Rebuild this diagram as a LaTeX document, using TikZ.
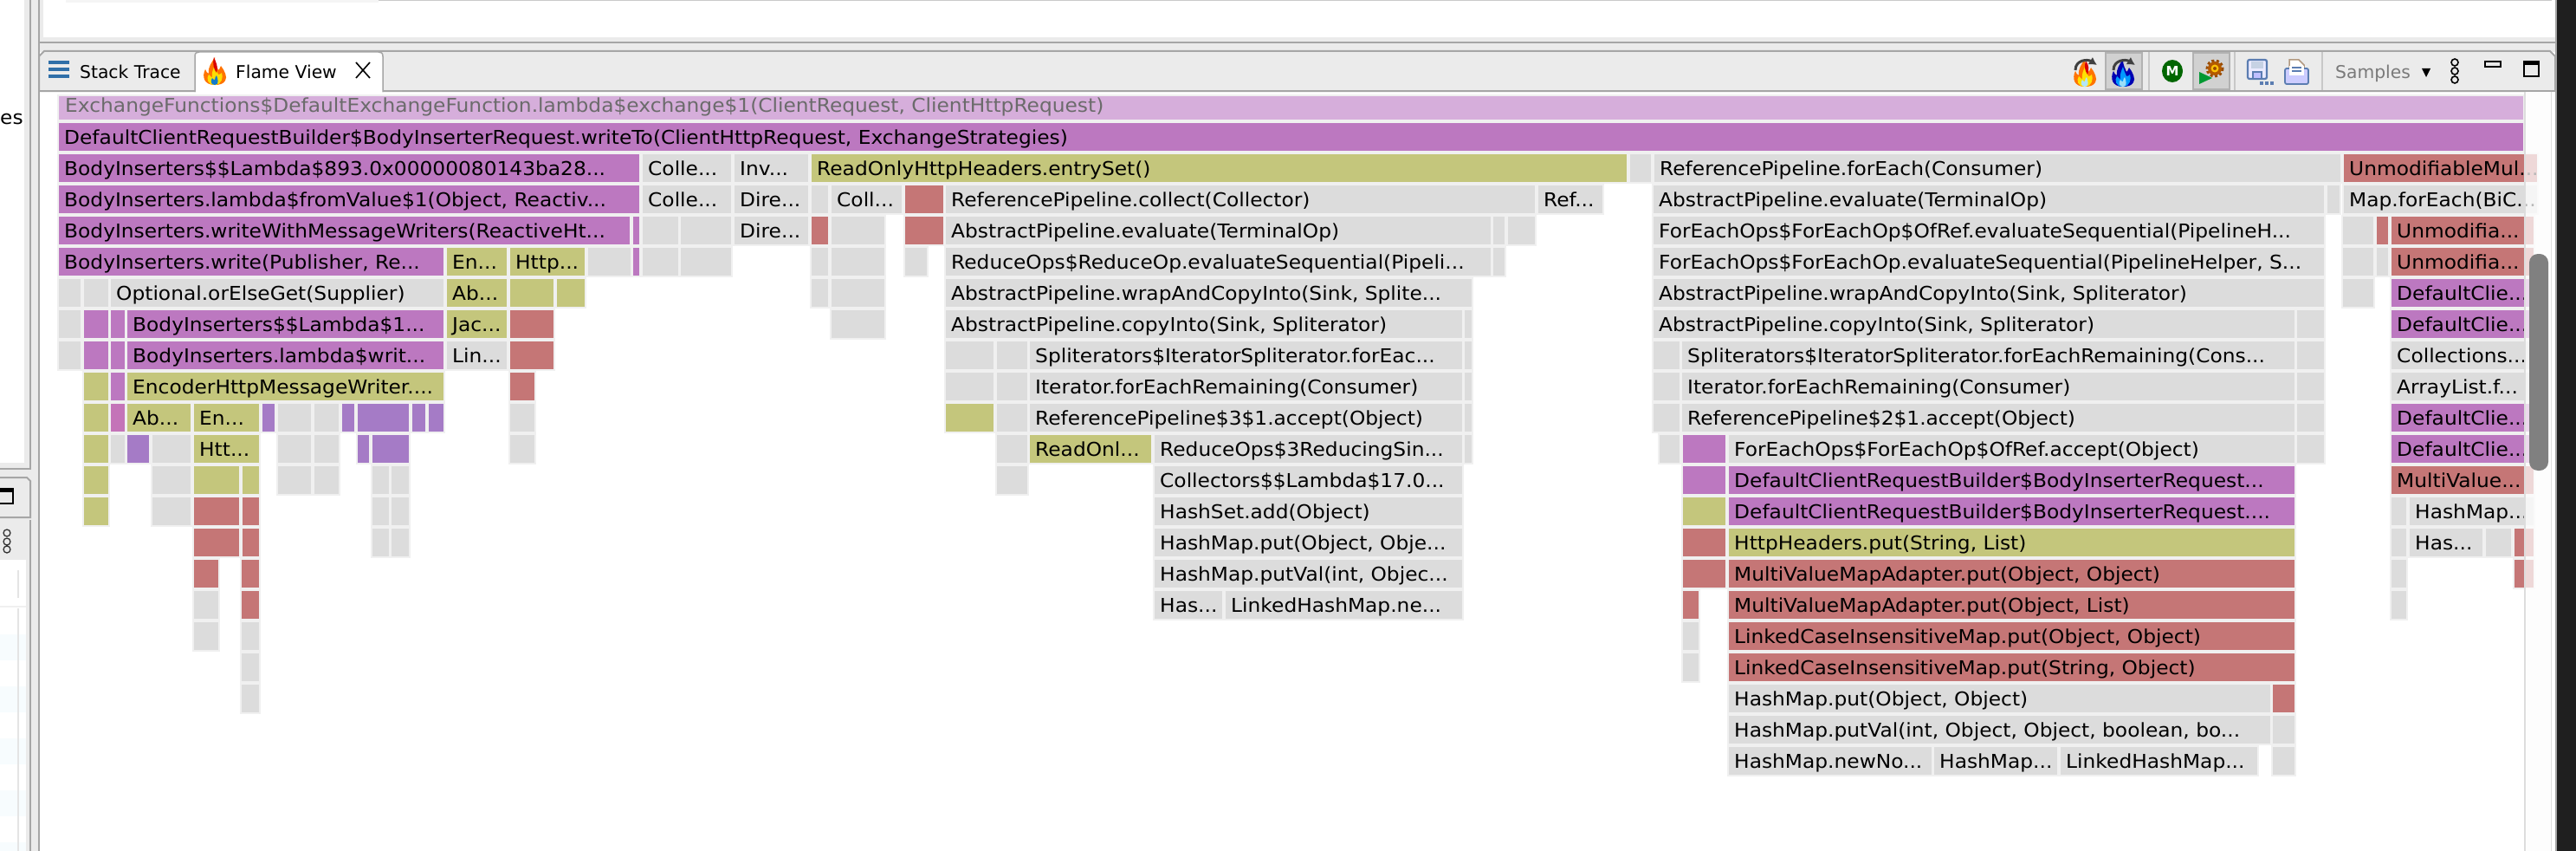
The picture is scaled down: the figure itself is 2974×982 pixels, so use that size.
\documentclass[tikz,border=0pt]{standalone}
\usepackage{fontspec}
\setmainfont{DejaVu Sans}
\usetikzlibrary{arrows.meta}
\definecolor{cG}{HTML}{DCDCDC}
\definecolor{cP}{HTML}{BC78C0}
\definecolor{cL}{HTML}{D6AEDB}
\definecolor{cO}{HTML}{C4C67C}
\definecolor{cR}{HTML}{C57676}
\definecolor{cV}{HTML}{A57BC6}
\definecolor{cK}{HTML}{C474B8}
\definecolor{cE}{HTML}{F0F0F0}
\definecolor{cBar}{HTML}{EBEBEB}
\definecolor{cLine}{HTML}{A6A6A6}
\definecolor{cIcon}{HTML}{5B7DB1}
\definecolor{cBlue}{HTML}{2F6FA8}
\newfontfamily\flamefont[FakeStretch=1.06]{DejaVu Sans}
\tikzset{
  boxnode/.style={draw=cE,line width=2pt,inner sep=0pt,outer sep=0pt,minimum height=34pt,anchor=north west},
  lbl/.style={inner sep=0pt,anchor=base west,font=\flamefont\fontsize{22}{26}\selectfont,text=black},
  uilbl/.style={inner sep=0pt,anchor=base west,font=\fontsize{20.3}{24}\selectfont,text=black},
  uiline/.style={draw=cLine,line width=2pt},
  winbtn/.style={draw=black,line width=2.5pt},
}
\newcounter{bx}
\newcommand\B[5]{%
  \stepcounter{bx}%
  \pgfmathsetmacro\bt{105+36*#1}%
  \pgfmathsetmacro\bw{#3-#2}%
  \pgfmathsetmacro\bb{\bt+25}%
  \pgfmathsetmacro\bxx{#2+7}%
  \node[boxnode,fill=#4,minimum width=\bw pt] (b\thebx) at (#2,\bt) {};
  \def\tmptxt{#5}%
  \ifx\tmptxt\empty\else
    \node[lbl] (t\thebx) at (\bxx,\bb) {#5};
  \fi}
\newcommand\Flame[5]{%
  \begin{scope}[shift={(#1,#2)}]
    \fill[#3] (0,15) .. controls (-13,15) and (-15,5) .. (-11,-3) .. controls (-10,0) and (-9,1) .. (-7,2) .. controls (-8,-6) and (-4,-10) .. (0,-17) .. controls (0,-8) and (3,-6) .. (4,-2) .. controls (5,-3) and (6,-4) .. (7,-7) .. controls (11,-2) and (15,6) .. (12,10) .. controls (10,14) and (5,15) .. (0,15) -- cycle;
    \fill[#4] (0,15) .. controls (-9,15) and (-10,7) .. (-7,3) .. controls (-5,5) and (-4,6) .. (-3,7) .. controls (-4,1) and (-2,-3) .. (0,-8) .. controls (1,-3) and (3,0) .. (4,3) .. controls (6,3) and (7,2) .. (8,1) .. controls (10,6) and (8,15) .. (0,15) -- cycle;
    \fill[#5] (0,15) .. controls (-5,15) and (-5,10) .. (-3,7) .. controls (-2,9) and (-1,9) .. (0,9) .. controls (0,7) and (1,5) .. (2,4) .. controls (3,7) and (6,15) .. (0,15) -- cycle;
  \end{scope}}
\begin{document}
\begin{tikzpicture}[x=1pt,y=-1pt]
\useasboundingbox (0,0) rectangle (2974,982);
% window background
\fill[white] (0,0) rectangle (2974,982);
% frames between the panels
\fill[cBar] (28,0) rectangle (46,982);
\fill[cBar] (46,0) rectangle (50,60);
\fill[cBar] (46,43) rectangle (2950,60);
\fill[cBar] (0,534) rectangle (35,646);
\draw[uiline] (35,0) -- (35,541) -- (0,541);
\draw[uiline] (35,597) -- (35,982);
\draw[uiline] (45,0) -- (45,982);
\draw[uiline] (46,49) -- (2950,49);
\fill[white] (50,0) rectangle (2946,43);
\fill[cE!70!white] (76,0) rectangle (437,3);
\fill[cLine!60!white] (437,0) rectangle (2946,1.5);
\fill[white] (47,106) rectangle (2950,982);
% tab strip
\path[fill=cBar,uiline] (45,105) -- (45,65) -- (51,59) -- (2944,59) -- (2950,65) -- (2950,105) -- cycle;
\path[fill=white,draw=cLine,line width=1.5pt] (225,106) -- (225,65) .. controls (225,61) and (227,60) .. (230,60) -- (437,60) .. controls (440,60) and (442,61) .. (442,65) -- (442,106);
\fill[white] (226,103) rectangle (441,107);
% stack trace tab
\fill[cBlue] (56,70) rectangle (80,74);
\fill[cBlue] (56,78) rectangle (80,82);
\fill[cBlue] (56,86) rectangle (80,90);
\node[uilbl] (stacktab) at (92,91) {Stack Trace};
\Flame{248}{83}{orange!90!red}{yellow!80!orange}{cyan!60!blue}
\fill[red!85!black] (247,66) .. controls (250,74) and (252,76) .. (250,84) .. controls (247,80) and (245,74) .. (247,66) -- cycle;
\node[uilbl] (flametab) at (272,91) {Flame View};
\draw[line width=1.6pt] (411,72) -- (427,90) (427,72) -- (411,90);
% toolbar
\draw[cBar!85!black,line width=1.5pt] (2481,60) -- (2481,104) (2580,60) -- (2580,104) (2681,60) -- (2681,104);
\path[fill=black!18,draw=black!30,line width=2pt] (2431,61) rectangle (2473,103);
\path[fill=black!18,draw=black!30,line width=2pt] (2532,61) rectangle (2574,103);
\Flame{2407}{85}{orange!90!red}{yellow!85!orange}{white!70!cyan}
\fill[red!85!black] (2408,70) .. controls (2412,76) and (2412,80) .. (2410,86) .. controls (2407,82) and (2406,76) .. (2408,70) -- cycle;
\Flame{2451}{85}{blue!70!black}{blue!40!cyan}{white!60!cyan}
\draw[black!75,line width=3pt,-{Latex[length=9pt,width=10pt]}] (2396,81) .. controls (2396,69) and (2410,68) .. (2421,75);
\draw[black!75,line width=3pt,-{Latex[length=9pt,width=10pt]}] (2440,81) .. controls (2440,69) and (2454,68) .. (2465,75);
\fill[green!40!black] (2508,82) ellipse (12 and 13);
\node[inner sep=0pt,font=\fontsize{15}{15}\bfseries\selectfont,text=white] (mbadge) at (2508,82) {M};
\draw[orange!60!black,line width=3pt,dash pattern=on 3pt off 2.5pt] (2557,79) circle (9);
\fill[orange!70!black] (2557,79) circle (8);
\fill[yellow!55!orange] (2557,79) circle (4.5);
\fill[orange!60!black] (2557,79) circle (2);
\fill[green!50!black!80!cyan] (2539,83) -- (2554,90) -- (2539,97) -- cycle;
\path[fill=blue!8!white,draw=cIcon,line width=2.2pt,rounded corners=2pt] (2595,69) rectangle (2617,91);
\fill[cIcon!35!white] (2599,71) rectangle (2613,79);
\path[fill=blue!25!white,draw=cIcon,line width=1.6pt] (2601,83) rectangle (2611,91);
\fill[cIcon] (2609,94) rectangle (2613,98);
\fill[cIcon] (2615,94) rectangle (2619,98);
\fill[cIcon] (2621,94) rectangle (2625,98);
\path[fill=white,draw=orange!40!black!50!white,line width=1.5pt] (2643,69) -- (2654,69) -- (2660,75) -- (2660,88) -- (2643,88) -- cycle;
\path[fill=blue!20!white,draw=cIcon,line width=1.8pt,rounded corners=2pt] (2638,79) rectangle (2665,97);
\path[fill=white,draw=none] (2643,76) rectangle (2660,87);
\draw[cIcon,line width=1.5pt] (2646,78) -- (2657,78) (2646,82) -- (2657,82);
\node[uilbl,text=black!52] (samples) at (2696,90) {Samples};
\fill (2796,79) -- (2806,79) -- (2801,89) -- cycle;
\draw[line width=1.6pt] (2834,72) circle (4) (2834,82) circle (4) (2834,92) circle (4);
\draw[winbtn] (2869,71) rectangle (2887,77);
\draw[winbtn] (2914,71) rectangle (2931,88);
\fill (2914,71) rectangle (2931,75);
% left panel remains
\node[lbl] (leftes) at (0,143) {es};
\fill[cBar] (36,551) -- (36,600) -- (0,600) -- (0,551) -- cycle;
\draw[uiline] (0,551) -- (31,551) -- (35,555) -- (35,597) -- (0,597);
\draw[line width=2.4pt] (-3,564) rectangle (15,581);
\fill (-3,564) rectangle (15,568);
\draw[black!80,line width=1.3pt] (8,615) circle (4) (8,625) circle (4) (8,634) circle (4);
\fill[white] (0,646) rectangle (30,982);
\foreach \s in {732,792,852,912,972}{\fill[black!5!cyan!3!white] (0,\s) rectangle (30,\s+30);}
\draw[cE!95!black,line width=1.2pt] (21,658) -- (21,690) (21,702) -- (21,982);
\draw[cE,line width=1.5pt] (0,700) -- (30,700);
% right strip behind the graph
\fill[black!2] (2916,106) rectangle (2945,982);
% flame graph
\node[boxnode,fill=cL,minimum width=2847pt,minimum height=29pt] (root) at (67,110) {};
\node[lbl,text=black!58] (rootlbl) at (75,129) {ExchangeFunctions\$DefaultExchangeFunction.lambda\$exchange\$1(ClientRequest, ClientHttpRequest)};
\B{1}{67}{2914}{cP}{DefaultClientRequestBuilder\$BodyInserterRequest.writeTo(ClientHttpRequest, ExchangeStrategies)}
% row 2
\B{2}{67}{739}{cP}{BodyInserters\$\$Lambda\$893.0x00000080143ba28...}
\B{2}{741}{845}{cG}{Colle...}
\B{2}{847}{934}{cG}{Inv...}
\B{2}{936}{1879}{cO}{ReadOnlyHttpHeaders.entrySet()}
\B{2}{1881}{1907}{cG}{}
\B{2}{1909}{2703}{cG}{ReferencePipeline.forEach(Consumer)}
\B{2}{2705}{2930}{cR}{UnmodifiableMul...}
% row 3
\B{3}{67}{739}{cP}{BodyInserters.lambda\$fromValue\$1(Object, Reactiv...}
\B{3}{741}{845}{cG}{Colle...}
\B{3}{847}{934}{cG}{Dire...}
\B{3}{936}{957}{cG}{}
\B{3}{959}{1042}{cG}{Coll...}
\B{3}{1044}{1090}{cR}{}
\B{3}{1091}{1773}{cG}{ReferencePipeline.collect(Collector)}
\B{3}{1775}{1851}{cG}{Ref...}
\B{3}{1908}{2684}{cG}{AbstractPipeline.evaluate(TerminalOp)}
\B{3}{2686}{2702}{cG}{}
\B{3}{2705}{2930}{cG}{Map.forEach(BiC...}
% row 4
\B{4}{67}{728}{cP}{BodyInserters.writeWithMessageWriters(ReactiveHt...}
\B{4}{730}{739}{cP}{}
\B{4}{741}{784}{cG}{}
\B{4}{785}{845}{cG}{}
\B{4}{847}{934}{cG}{Dire...}
\B{4}{936}{957}{cR}{}
\B{4}{959}{1022}{cG}{}
\B{4}{1044}{1090}{cR}{}
\B{4}{1091}{1722}{cG}{AbstractPipeline.evaluate(TerminalOp)}
\B{4}{1723}{1738}{cG}{}
\B{4}{1740}{1773}{cG}{}
\B{4}{1908}{2684}{cG}{ForEachOps\$ForEachOp\$OfRef.evaluateSequential(PipelineH...}
\B{4}{2704}{2741}{cG}{}
\B{4}{2743}{2758}{cR}{}
\B{4}{2760}{2926}{cR}{Unmodifia...}
% row 5
\B{5}{67}{513}{cP}{BodyInserters.write(Publisher, Re...}
\B{5}{515}{586}{cO}{En...}
\B{5}{588}{676}{cO}{Http...}
\B{5}{678}{729}{cG}{}
\B{5}{730}{739}{cP}{}
\B{5}{741}{784}{cG}{}
\B{5}{785}{845}{cG}{}
\B{5}{936}{957}{cG}{}
\B{5}{959}{1022}{cG}{}
\B{5}{1044}{1071}{cG}{}
\B{5}{1091}{1722}{cG}{ReduceOps\$ReduceOp.evaluateSequential(Pipeli...}
\B{5}{1723}{1738}{cG}{}
\B{5}{1908}{2684}{cG}{ForEachOps\$ForEachOp.evaluateSequential(PipelineHelper, S...}
\B{5}{2704}{2741}{cG}{}
\B{5}{2743}{2758}{cG}{}
\B{5}{2760}{2926}{cR}{Unmodifia...}
% row 6
\B{6}{67}{94}{cG}{}
\B{6}{96}{126}{cG}{}
\B{6}{127}{513}{cG}{Optional.orElseGet(Supplier)}
\B{6}{515}{586}{cO}{Ab...}
\B{6}{588}{640}{cO}{}
\B{6}{642}{676}{cO}{}
\B{6}{936}{957}{cG}{}
\B{6}{959}{1022}{cG}{}
\B{6}{1091}{1700}{cG}{AbstractPipeline.wrapAndCopyInto(Sink, Splite...}
\B{6}{1908}{2684}{cG}{AbstractPipeline.wrapAndCopyInto(Sink, Spliterator)}
\B{6}{2704}{2741}{cG}{}
\B{6}{2760}{2926}{cP}{DefaultClie...}
% row 7
\B{7}{67}{94}{cG}{}
\B{7}{96}{126}{cP}{}
\B{7}{127}{145}{cP}{}
\B{7}{146}{513}{cP}{BodyInserters\$\$Lambda\$1...}
\B{7}{515}{586}{cO}{Jac...}
\B{7}{588}{640}{cR}{}
\B{7}{959}{1022}{cG}{}
\B{7}{1091}{1689}{cG}{AbstractPipeline.copyInto(Sink, Spliterator)}
\B{7}{1690}{1700}{cG}{}
\B{7}{1908}{2650}{cG}{AbstractPipeline.copyInto(Sink, Spliterator)}
\B{7}{2651}{2684}{cG}{}
\B{7}{2760}{2926}{cP}{DefaultClie...}
% row 8
\B{8}{67}{94}{cG}{}
\B{8}{96}{126}{cP}{}
\B{8}{127}{145}{cP}{}
\B{8}{146}{513}{cP}{BodyInserters.lambda\$writ...}
\B{8}{515}{586}{cG}{Lin...}
\B{8}{588}{640}{cR}{}
\B{8}{1091}{1148}{cG}{}
\B{8}{1150}{1187}{cG}{}
\B{8}{1188}{1689}{cG}{Spliterators\$IteratorSpliterator.forEac...}
\B{8}{1690}{1700}{cG}{}
\B{8}{1908}{1940}{cG}{}
\B{8}{1941}{2650}{cG}{Spliterators\$IteratorSpliterator.forEachRemaining(Cons...}
\B{8}{2651}{2684}{cG}{}
\B{8}{2760}{2926}{cG}{Collections...}
% row 9
\B{9}{96}{126}{cO}{}
\B{9}{127}{145}{cP}{}
\B{9}{146}{513}{cO}{EncoderHttpMessageWriter....}
\B{9}{588}{618}{cR}{}
\B{9}{1091}{1148}{cG}{}
\B{9}{1150}{1187}{cG}{}
\B{9}{1188}{1689}{cG}{Iterator.forEachRemaining(Consumer)}
\B{9}{1690}{1700}{cG}{}
\B{9}{1908}{1940}{cG}{}
\B{9}{1941}{2650}{cG}{Iterator.forEachRemaining(Consumer)}
\B{9}{2651}{2684}{cG}{}
\B{9}{2760}{2926}{cG}{ArrayList.f...}
% row 10
\B{10}{96}{126}{cO}{}
\B{10}{127}{145}{cK}{}
\B{10}{146}{221}{cO}{Ab...}
\B{10}{223}{300}{cO}{En...}
\B{10}{302}{318}{cV}{}
\B{10}{320}{360}{cG}{}
\B{10}{362}{392}{cG}{}
\B{10}{394}{410}{cV}{}
\B{10}{412}{473}{cV}{}
\B{10}{475}{492}{cV}{}
\B{10}{494}{513}{cV}{}
\B{10}{588}{618}{cG}{}
\B{10}{1091}{1148}{cO}{}
\B{10}{1150}{1187}{cG}{}
\B{10}{1188}{1689}{cG}{ReferencePipeline\$3\$1.accept(Object)}
\B{10}{1690}{1700}{cG}{}
\B{10}{1908}{1940}{cG}{}
\B{10}{1941}{2650}{cG}{ReferencePipeline\$2\$1.accept(Object)}
\B{10}{2651}{2684}{cG}{}
\B{10}{2760}{2926}{cP}{DefaultClie...}
% row 11
\B{11}{96}{126}{cO}{}
\B{11}{127}{145}{cG}{}
\B{11}{146}{173}{cV}{}
\B{11}{175}{221}{cG}{}
\B{11}{223}{300}{cO}{Htt...}
\B{11}{320}{360}{cG}{}
\B{11}{362}{392}{cG}{}
\B{11}{412}{427}{cV}{}
\B{11}{429}{473}{cV}{}
\B{11}{588}{618}{cG}{}
\B{11}{1150}{1187}{cG}{}
\B{11}{1188}{1330}{cO}{ReadOnl...}
\B{11}{1332}{1689}{cG}{ReduceOps\$3ReducingSin...}
\B{11}{1690}{1700}{cG}{}
\B{11}{1915}{1940}{cG}{}
\B{11}{1942}{1993}{cP}{}
\B{11}{1995}{2650}{cG}{ForEachOps\$ForEachOp\$OfRef.accept(Object)}
\B{11}{2651}{2684}{cG}{}
\B{11}{2760}{2926}{cP}{DefaultClie...}
% row 12
\B{12}{96}{126}{cO}{}
\B{12}{175}{221}{cG}{}
\B{12}{223}{277}{cO}{}
\B{12}{279}{300}{cO}{}
\B{12}{320}{360}{cG}{}
\B{12}{362}{392}{cG}{}
\B{12}{429}{450}{cG}{}
\B{12}{451}{473}{cG}{}
\B{12}{1150}{1187}{cG}{}
\B{12}{1332}{1689}{cG}{Collectors\$\$Lambda\$17.0...}
\B{12}{1942}{1993}{cP}{}
\B{12}{1995}{2650}{cP}{DefaultClientRequestBuilder\$BodyInserterRequest...}
\B{12}{2760}{2926}{cR}{MultiValue...}
% row 13
\B{13}{96}{126}{cO}{}
\B{13}{175}{221}{cG}{}
\B{13}{223}{277}{cR}{}
\B{13}{279}{300}{cR}{}
\B{13}{429}{450}{cG}{}
\B{13}{451}{473}{cG}{}
\B{13}{1332}{1689}{cG}{HashSet.add(Object)}
\B{13}{1942}{1993}{cO}{}
\B{13}{1995}{2650}{cP}{DefaultClientRequestBuilder\$BodyInserterRequest....}
\B{13}{2760}{2779}{cG}{}
\B{13}{2781}{2926}{cG}{HashMap...}
% row 14
\B{14}{223}{277}{cR}{}
\B{14}{279}{300}{cR}{}
\B{14}{429}{450}{cG}{}
\B{14}{451}{473}{cG}{}
\B{14}{1332}{1689}{cG}{HashMap.put(Object, Obje...}
\B{14}{1942}{1993}{cR}{}
\B{14}{1995}{2650}{cO}{HttpHeaders.put(String, List)}
\B{14}{2760}{2779}{cG}{}
\B{14}{2781}{2867}{cG}{Has...}
\B{14}{2869}{2900}{cG}{}
\B{14}{2902}{2926}{cR}{}
% row 15
\B{15}{223}{253}{cR}{}
\B{15}{278}{300}{cR}{}
\B{15}{1332}{1689}{cG}{HashMap.putVal(int, Objec...}
\B{15}{1942}{1993}{cR}{}
\B{15}{1995}{2650}{cR}{MultiValueMapAdapter.put(Object, Object)}
\B{15}{2760}{2779}{cG}{}
\B{15}{2902}{2926}{cR}{}
% row 16
\B{16}{223}{253}{cG}{}
\B{16}{278}{300}{cR}{}
\B{16}{1332}{1412}{cG}{Has...}
\B{16}{1414}{1689}{cG}{LinkedHashMap.ne...}
\B{16}{1942}{1962}{cR}{}
\B{16}{1995}{2650}{cR}{MultiValueMapAdapter.put(Object, List)}
\B{16}{2760}{2779}{cG}{}
% row 17
\B{17}{223}{253}{cG}{}
\B{17}{278}{300}{cG}{}
\B{17}{1942}{1962}{cG}{}
\B{17}{1995}{2650}{cR}{LinkedCaseInsensitiveMap.put(Object, Object)}
% row 18
\B{18}{278}{300}{cG}{}
\B{18}{1942}{1962}{cG}{}
\B{18}{1995}{2650}{cR}{LinkedCaseInsensitiveMap.put(String, Object)}
% row 19
\B{19}{278}{300}{cG}{}
\B{19}{1995}{2622}{cG}{HashMap.put(Object, Object)}
\B{19}{2623}{2650}{cR}{}
% row 20
\B{20}{1995}{2622}{cG}{HashMap.putVal(int, Object, Object, boolean, bo...}
\B{20}{2623}{2650}{cG}{}
% row 21
\B{21}{1995}{2231}{cG}{HashMap.newNo...}
\B{21}{2232}{2376}{cG}{HashMap...}
\B{21}{2378}{2607}{cG}{LinkedHashMap...}
\B{21}{2623}{2650}{cG}{}
% fade at the right edge, scrollbar, window edge
\fill[white,fill opacity=.72] (2914,106) rectangle (2949,982);
\draw[cE!92!black,line width=1.5pt] (2915,106) -- (2915,982);
\draw[cE!92!black,line width=1pt] (2945,106) -- (2945,982);
\fill[black!50,rounded corners=10pt] (2920,293) rectangle (2942,543);
\draw[cLine,line width=2pt] (2951,0) -- (2951,982);
\fill[black!88] (2952,0) rectangle (2974,982);
\end{tikzpicture}
\end{document}
